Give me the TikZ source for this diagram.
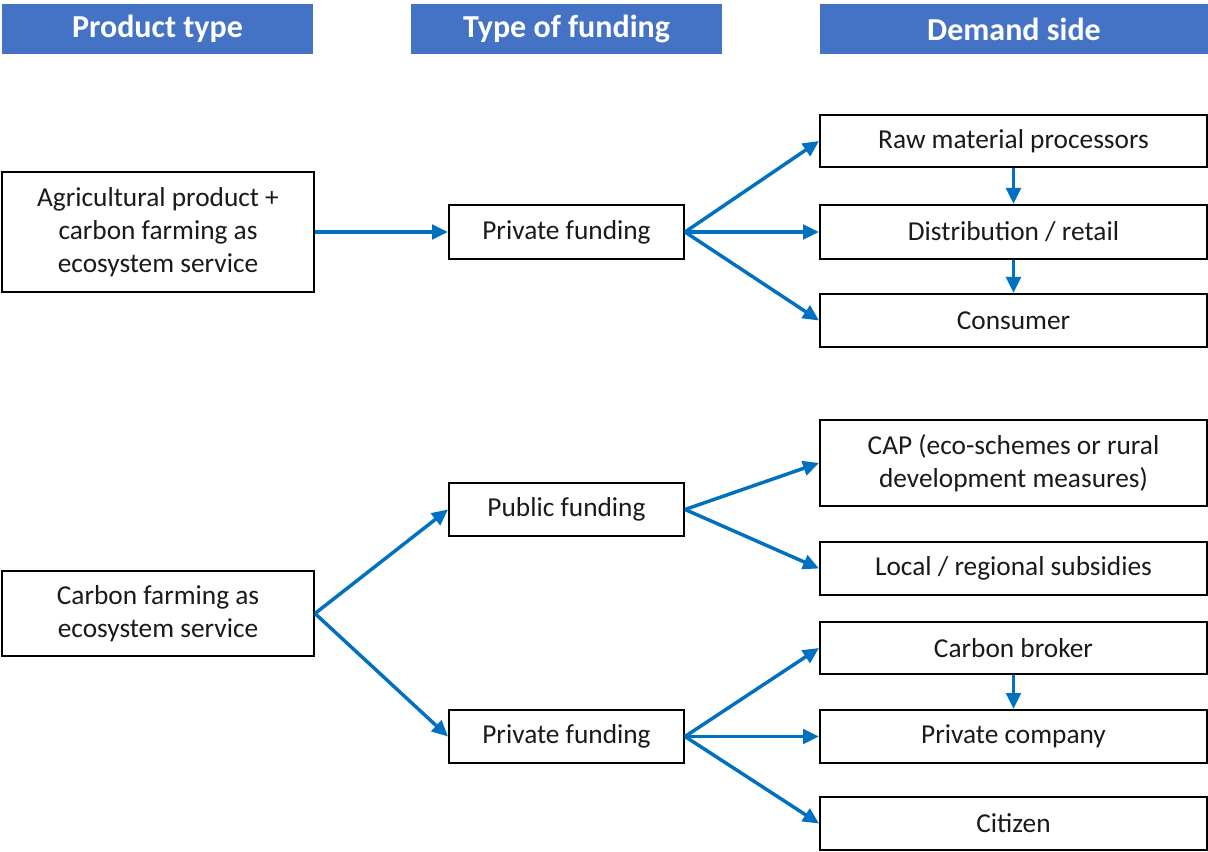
\documentclass[tikz,border=0pt]{standalone}
\usepackage{fontspec}
\setmainfont{Carlito}
\usetikzlibrary{arrows.meta}
\definecolor{hdr}{HTML}{4472C4}
\definecolor{arr}{HTML}{0070C0}
\definecolor{txt}{HTML}{1A1A1A}
\begin{document}
\begin{tikzpicture}[x=0.75pt,y=-0.75pt,
  header/.style={fill=hdr, draw=none, text=white, font=\fontsize{24}{28}\selectfont\bfseries, inner sep=0pt, minimum height=37.5pt},
  box/.style={draw=black, line width=1.5pt, fill=white, text=txt, font=\fontsize{20.5}{24.75}\selectfont, align=center, inner sep=0pt},
  conn/.style={draw=arr, line width=2.6pt, -{Triangle[length=12pt,width=11pt]}}
]
\useasboundingbox (0,0) rectangle (1208,852);
\fill[white] (0,0) rectangle (1208,852);
% headers
\node[header, minimum width=233.25pt] (hPT) at (157.5,29) {Product type};
\node[header, minimum width=233.25pt] (hTF) at (566.5,29) {Type of funding};
\node[header, minimum width=291pt] (hDS) at (1014,29.5) {Demand side};
% left column
\node[box, minimum width=234pt, minimum height=90pt] (agri) at (158,232) {Agricultural product +\\carbon farming as\\ecosystem service};
\node[box, minimum width=234pt, minimum height=63.75pt] (cf) at (158,613.5) {Carbon farming as\\ecosystem service};
% middle column
\node[box, minimum width=176.25pt, minimum height=40.5pt] (pf1) at (566.5,232) {Private funding};
\node[box, minimum width=176.25pt, minimum height=39.75pt] (pub) at (566.5,509.5) {Public funding};
\node[box, minimum width=176.25pt, minimum height=39.75pt] (pf2) at (566.5,736.5) {Private funding};
% right column
\node[box, minimum width=290.25pt, minimum height=39pt] (raw) at (1013.5,141) {Raw material processors};
\node[box, minimum width=290.25pt, minimum height=40.5pt] (dist) at (1013.5,232) {Distribution / retail};
\node[box, minimum width=290.25pt, minimum height=39.75pt] (cons) at (1013.5,320.5) {Consumer};
\node[box, minimum width=290.25pt, minimum height=64.5pt] (cap) at (1013.5,463) {CAP (eco-schemes or rural\\development measures)};
\node[box, minimum width=290.25pt, minimum height=39.75pt] (local) at (1013.5,568.5) {Local / regional subsidies};
\node[box, minimum width=290.25pt, minimum height=39pt] (broker) at (1013.5,648) {Carbon broker};
\node[box, minimum width=290.25pt, minimum height=39.75pt] (comp) at (1013.5,736.5) {Private company};
\node[box, minimum width=290.25pt, minimum height=39.75pt] (cit) at (1013.5,823.5) {Citizen};
% connectors
\draw[conn] (agri.east) -- (pf1.west);
\draw[conn] (pf1.east) -- (raw.west);
\draw[conn] (pf1.east) -- (dist.west);
\draw[conn] (pf1.east) -- (cons.west);
\draw[conn] (raw.south) -- (dist.north);
\draw[conn] (dist.south) -- (cons.north);
\draw[conn] (cf.east) -- (pub.west);
\draw[conn] (cf.east) -- (pf2.west);
\draw[conn] (pub.east) -- (cap.west);
\draw[conn] (pub.east) -- (local.west);
\draw[conn] (pf2.east) -- (broker.west);
\draw[conn] (pf2.east) -- (comp.west);
\draw[conn] (pf2.east) -- (cit.west);
\draw[conn] (broker.south) -- (comp.north);
\end{tikzpicture}
\end{document}
